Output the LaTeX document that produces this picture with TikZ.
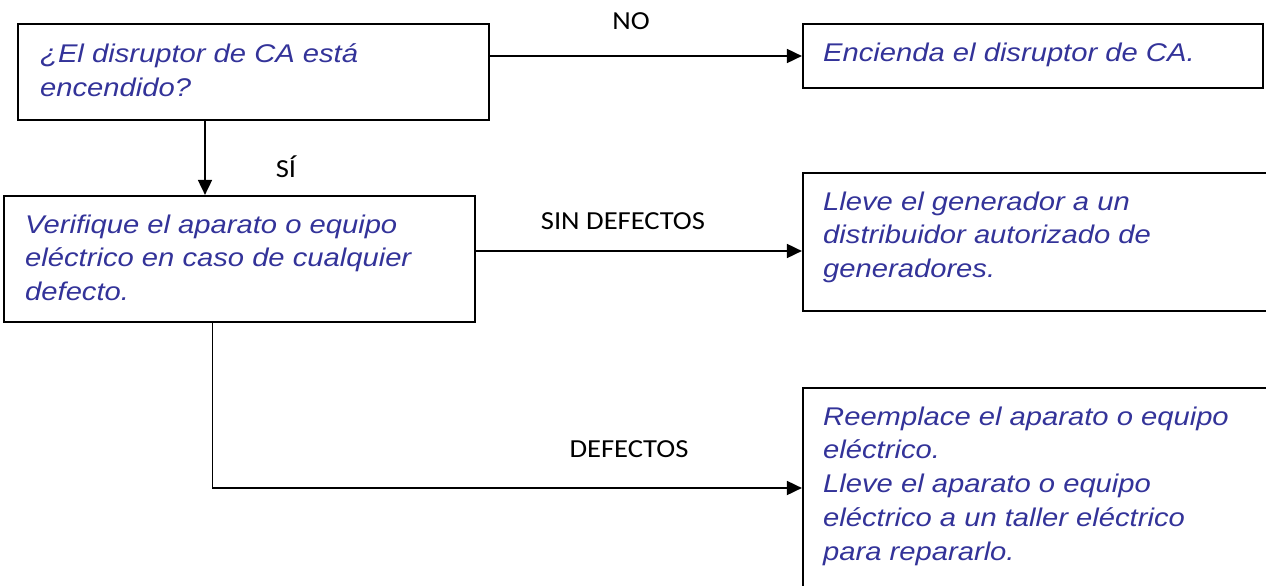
\documentclass[tikz,border=0pt]{standalone}
\usepackage{fontspec}
\usepackage{graphicx}
\usetikzlibrary{arrows.meta}
\setmainfont{Liberation Sans}
\newfontfamily\labfont{Carlito}
\definecolor{txtblue}{RGB}{51,51,153}
\newcommand\btext[1]{\scalebox{1.14}[1]{\vtop{\baselineskip=33.8pt\lineskiplimit=-50pt\lineskip=0pt #1}}}
\newcommand\ltext[1]{\scalebox{1.1}[1]{#1}}
\begin{document}
\begin{tikzpicture}[x=1pt,y=-1pt,
  box/.style={draw=black,line width=2.2pt,inner sep=0pt,fill=none},
  btxt/.style={anchor=base west,inner sep=0pt,text=txtblue,font=\fontsize{25.6}{33.8}\selectfont\itshape},
  lbl/.style={anchor=base,inner sep=0pt,font=\labfont\fontsize{26}{30}\selectfont},
  conn/.style={line width=1.8pt,draw=black},
  arr/.style={conn,-{Triangle[length=15pt,width=14pt]}}]
\useasboundingbox (0,0) rectangle (1266,586);
% boxes
\node[box,minimum width=471pt,minimum height=96pt] (b1) at (253.5,72) {};
\node[box,minimum width=460pt,minimum height=64pt] (b2) at (1033,56) {};
\node[box,minimum width=471pt,minimum height=126pt] (b3) at (239.5,259) {};
\node[box,minimum width=472pt,minimum height=138pt] (b4) at (1039,242) {};
\node[box,minimum width=472pt,minimum height=212pt] (b5) at (1039,494) {};
% texts
\node[btxt] (t1) at (40,63) {\btext{\hbox{¿El disruptor de CA está}\hbox{encendido?}}};
\node[btxt] (t2) at (823,62) {\btext{\hbox{Encienda el disruptor de CA.}}};
\node[btxt] (t3) at (25,233) {\btext{\hbox{Verifique el aparato o equipo}\hbox{eléctrico en caso de cualquier}\hbox{defecto.}}};
\node[btxt] (t4) at (823,210) {\btext{\hbox{Lleve el generador a un}\hbox{distribuidor autorizado de}\hbox{generadores.}}};
\node[btxt] (t5) at (823,425) {\btext{\hbox{Reemplace el aparato o equipo}\hbox{eléctrico.}\hbox{Lleve el aparato o equipo}\hbox{eléctrico a un taller eléctrico}\hbox{para repararlo.}}};
% coordinates
\coordinate (sx) at (205,0);
\coordinate (sd) at (0,251);
\coordinate (dx) at (212.5,0);
\coordinate (dy) at (0,488);
% connectors
\draw[arr] (b1.east |- b2.west) -- (b2.west);
\draw[arr] (b1.south -| sx) -- (b3.north -| sx);
\draw[arr] (b3.east |- sd) -- (b4.west |- sd);
\draw[arr] (b3.south -| dx) -- (dx |- dy) -- (b5.west |- dy);
% labels
\node[lbl] (lno) at (631,30) {\ltext{NO}};
\node[lbl] (lsi) at (286,177) {\ltext{SÍ}};
\node[lbl] (lsd) at (623,229) {\ltext{SIN DEFECTOS}};
\node[lbl] (ld) at (629,457) {\ltext{DEFECTOS}};
\end{tikzpicture}
\end{document}
